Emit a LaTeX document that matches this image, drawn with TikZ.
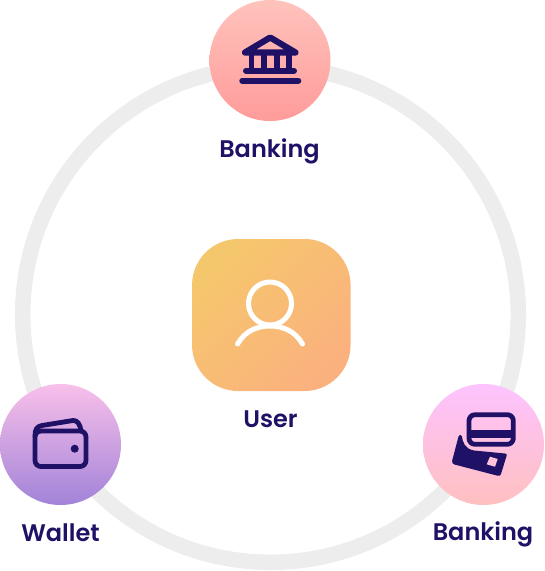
\documentclass[tikz,border=0pt]{standalone}
\usepackage{fontspec}
\setmainfont{Poppins SemiBold}
\definecolor{ink}{HTML}{1E1166}
\definecolor{ringgray}{HTML}{EDEDED}
\definecolor{bankTop}{HTML}{FFC3BC}
\definecolor{bankBot}{HTML}{FF9B9B}
\definecolor{walTop}{HTML}{F8C0EA}
\definecolor{walBot}{HTML}{A283D8}
\definecolor{cardTop}{HTML}{FDC3FF}
\definecolor{cardBot}{HTML}{FFC0C0}
\definecolor{userA}{HTML}{F5C76C}
\definecolor{userB}{HTML}{FBB17E}
\definecolor{cardChip}{HTML}{FFC2D8}
\tikzset{
  disc/.style={circle,draw=none,minimum size=121pt,inner sep=0pt},
  lbl/.style={text=ink,font=\fontsize{24}{28}\selectfont,inner sep=0pt,anchor=center},
  iconline/.style={draw=ink,line width=4.8pt,line cap=round,line join=round},
}
\begin{document}
\begin{tikzpicture}[x=1pt,y=-1pt]
\useasboundingbox (0,0) rectangle (545,571);
\draw[ringgray,line width=15.5pt] (270.5,314.5) circle[radius=247.8];

% top
\node[disc,top color=bankTop,bottom color=bankBot] (bank) at (270,60.5) {};
\draw[ink,line width=6.2pt,line join=round] (270.2,37.5) -- (245,52.5) -- (295.5,52.5) -- cycle;
\foreach \cx in {251.3,264,276.7,288.9}{ \fill[ink] (\cx-2.8,54) rectangle (\cx+2.8,70); }
\draw[ink,line width=6pt,line cap=round] (246,70.7) -- (294,70.7);
\draw[ink,line width=6pt,line cap=round] (242.3,80.7) -- (298.3,80.7);
\node[lbl] (bankLabel) at (269.5,151) {Banking};

% user
\node[rectangle,draw=none,minimum width=158.5pt,minimum height=152pt,inner sep=0pt,rounded corners=46pt,top color=userA,bottom color=userB,shading angle=45] (user) at (271.3,315) {};
\draw[white,line width=5pt] (270,303.5) circle[radius=21.5];
\draw[white,line width=5pt,line cap=round] (237.5,344) .. controls (245,331) and (257,326) .. (270,326) .. controls (283,326) and (295,331) .. (302.5,344);
\node[lbl] (userLabel) at (270.5,419) {User};

% wallet
\node[disc,top color=walTop,bottom color=walBot] (wallet) at (60.5,444.5) {};
\draw[iconline,rounded corners=6pt] (35,431) rectangle (86,466.5);
\draw[iconline] (35,436) .. controls (35,429) and (37,426.5) .. (42,425.5) -- (73,420.5) .. controls (77,420) and (80,424) .. (81,430.5);
\fill[ink] (74.7,448.7) circle[radius=4];
\node[lbl] (walletLabel) at (60.5,533) {Wallet};

% card
\node[disc,top color=cardTop,bottom color=cardBot] (card) at (483.5,444.5) {};
\fill[ink] (458.5,436.5) .. controls (459,434.5) and (461,434.5) .. (461.8,436)
  .. controls (462.5,442) and (465,449) .. (474,450.5) -- (505,453.5)
  .. controls (506.5,453.8) and (507,454.5) .. (506.7,455.5) -- (501,474)
  .. controls (500.5,475.7) and (499.5,476.3) .. (497.5,475.7) -- (454.5,464.5)
  .. controls (452.3,463.8) and (451.7,462.5) .. (452.2,460.5) -- cycle;
\fill[cardChip] (490,456.7) -- (497.7,459) -- (495,466.7) -- (486.7,464.3) -- cycle;
\draw[iconline,rounded corners=6pt] (469,414.7) rectangle (513.3,444.3);
\fill[ink] (468,430) rectangle (514,437.7);
\node[lbl] (cardLabel) at (483,534) {Banking};
\end{tikzpicture}
\end{document}
